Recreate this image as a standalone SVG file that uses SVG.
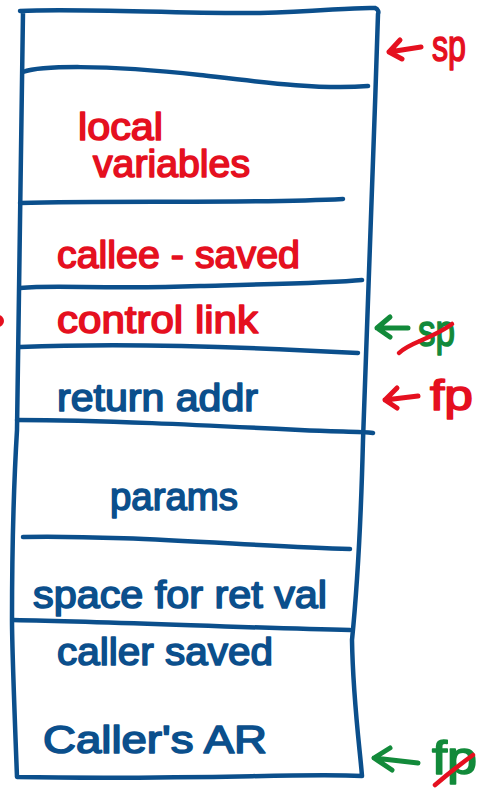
<svg xmlns="http://www.w3.org/2000/svg" width="487" height="790" viewBox="0 0 487 790">
  <style>
    .frame { fill: none; stroke: #0b4f8c; stroke-width: 4.5; stroke-linecap: round; stroke-linejoin: round; }
    .t { font-family: "Liberation Sans", "DejaVu Sans", sans-serif; font-size: 38px; stroke-width: 1.6; stroke-linejoin: round; }
    .red { fill: #e5101f; stroke: #e5101f; }
    .blue { fill: #0b4f8c; stroke: #0b4f8c; }
    .green { fill: #128a3a; stroke: #128a3a; }
    .ptr { fill: none; stroke-width: 5; stroke-linecap: round; stroke-linejoin: round; }
    .ptr.red { stroke: #e5101f; }
    .ptr.green { stroke: #128a3a; }
    .strike { fill: none; stroke: #e5101f; stroke-width: 4.5; stroke-linecap: round; }
  </style>

  <!-- outer stack box and slot dividers -->
  <g id="stack-frame">
    <path class="frame" d="M20,11 C80,8 180,14 260,13 C320,12 350,7 375,8 C378,9 379,12 378,14 C372,200 364,420 363,440 C361,520 356,600 352,640 C353,700 360,750 362,776 C300,773 200,780 17,777 C14,700 12,640 12,620 C12,560 14,480 17,430 C19,300 20,200 23,12" />
    <path class="frame" d="M23,72 C40,66 100,64 200,75 C260,82 320,90 368,86" />
    <path class="frame" d="M20,203 C120,200 250,204 343,199" />
    <path class="frame" d="M20,288 C60,284 100,290 200,286 C280,284 330,283 362,280" />
    <path class="frame" d="M20,347 C120,343 250,347 358,353" />
    <path class="frame" d="M17,420 C100,420 200,425 300,430 C340,432 360,431 373,433" />
    <path class="frame" d="M23,537 C120,535 250,546 350,549" />
    <path class="frame" d="M13,620 C120,622 250,628 350,630" />
  </g>

  <g id="slot-locals">
    <text class="t red" x="78" y="140" textLength="85" lengthAdjust="spacingAndGlyphs">local</text>
    <text class="t red" x="93" y="177" textLength="157" lengthAdjust="spacingAndGlyphs">variables</text>
  </g>

  <g id="slot-callee-saved">
    <text class="t red" x="57" y="268" textLength="243" lengthAdjust="spacingAndGlyphs">callee - saved</text>
  </g>

  <g id="slot-control-link">
    <text class="t red" x="57" y="333" textLength="201" lengthAdjust="spacingAndGlyphs">control link</text>
  </g>

  <g id="slot-return-addr">
    <text class="t blue" x="57" y="411" textLength="201" lengthAdjust="spacingAndGlyphs">return addr</text>
  </g>

  <g id="slot-params">
    <text class="t blue" x="110" y="510" textLength="128" lengthAdjust="spacingAndGlyphs">params</text>
  </g>

  <g id="slot-ret-val">
    <text class="t blue" x="33" y="608" textLength="294" lengthAdjust="spacingAndGlyphs">space for ret val</text>
  </g>

  <g id="slot-caller-saved">
    <text class="t blue" x="57" y="665" textLength="216" lengthAdjust="spacingAndGlyphs">caller saved</text>
  </g>

  <g id="slot-callers-ar">
    <text class="t blue" x="43" y="753" textLength="224" lengthAdjust="spacingAndGlyphs">Caller's AR</text>
  </g>

  <!-- register labels -->
  <g id="label-sp-new">
    <text class="t red" x="432" y="61" style="font-size:44px" textLength="34" lengthAdjust="spacingAndGlyphs">sp</text>
  </g>
  <g id="label-sp-old">
    <text class="t green" x="418" y="346" style="font-size:44px" textLength="37" lengthAdjust="spacingAndGlyphs">sp</text>
    <path class="strike" d="M399,353 C410,342 430,340 452,324" />
  </g>
  <g id="label-fp-new">
    <text class="t red" x="430" y="410" style="font-size:42px" textLength="43" lengthAdjust="spacingAndGlyphs">fp</text>
  </g>
  <g id="label-fp-old">
    <text class="t green" x="432" y="774" style="font-size:46px" textLength="45" lengthAdjust="spacingAndGlyphs">fp</text>
    <path class="strike" d="M435,785 C450,772 462,763 473,755" />
  </g>

  <!-- pointer arrows -->
  <g id="connectors">
    <path class="ptr red" d="M421,47 L389,52 M400,40 L389,52 L402,59" />
    <path class="ptr green" d="M408,328 L377,328 M390,317 L377,328 L390,337" />
    <path class="ptr red" d="M418,396 L385,400 M397,388 L385,400 L397,408" />
    <path class="ptr green" d="M418,763 L374,758 M390,748 L374,758 L392,770" />
    <circle cx="-2" cy="321" r="6" fill="#e5101f" />
  </g>
</svg>
